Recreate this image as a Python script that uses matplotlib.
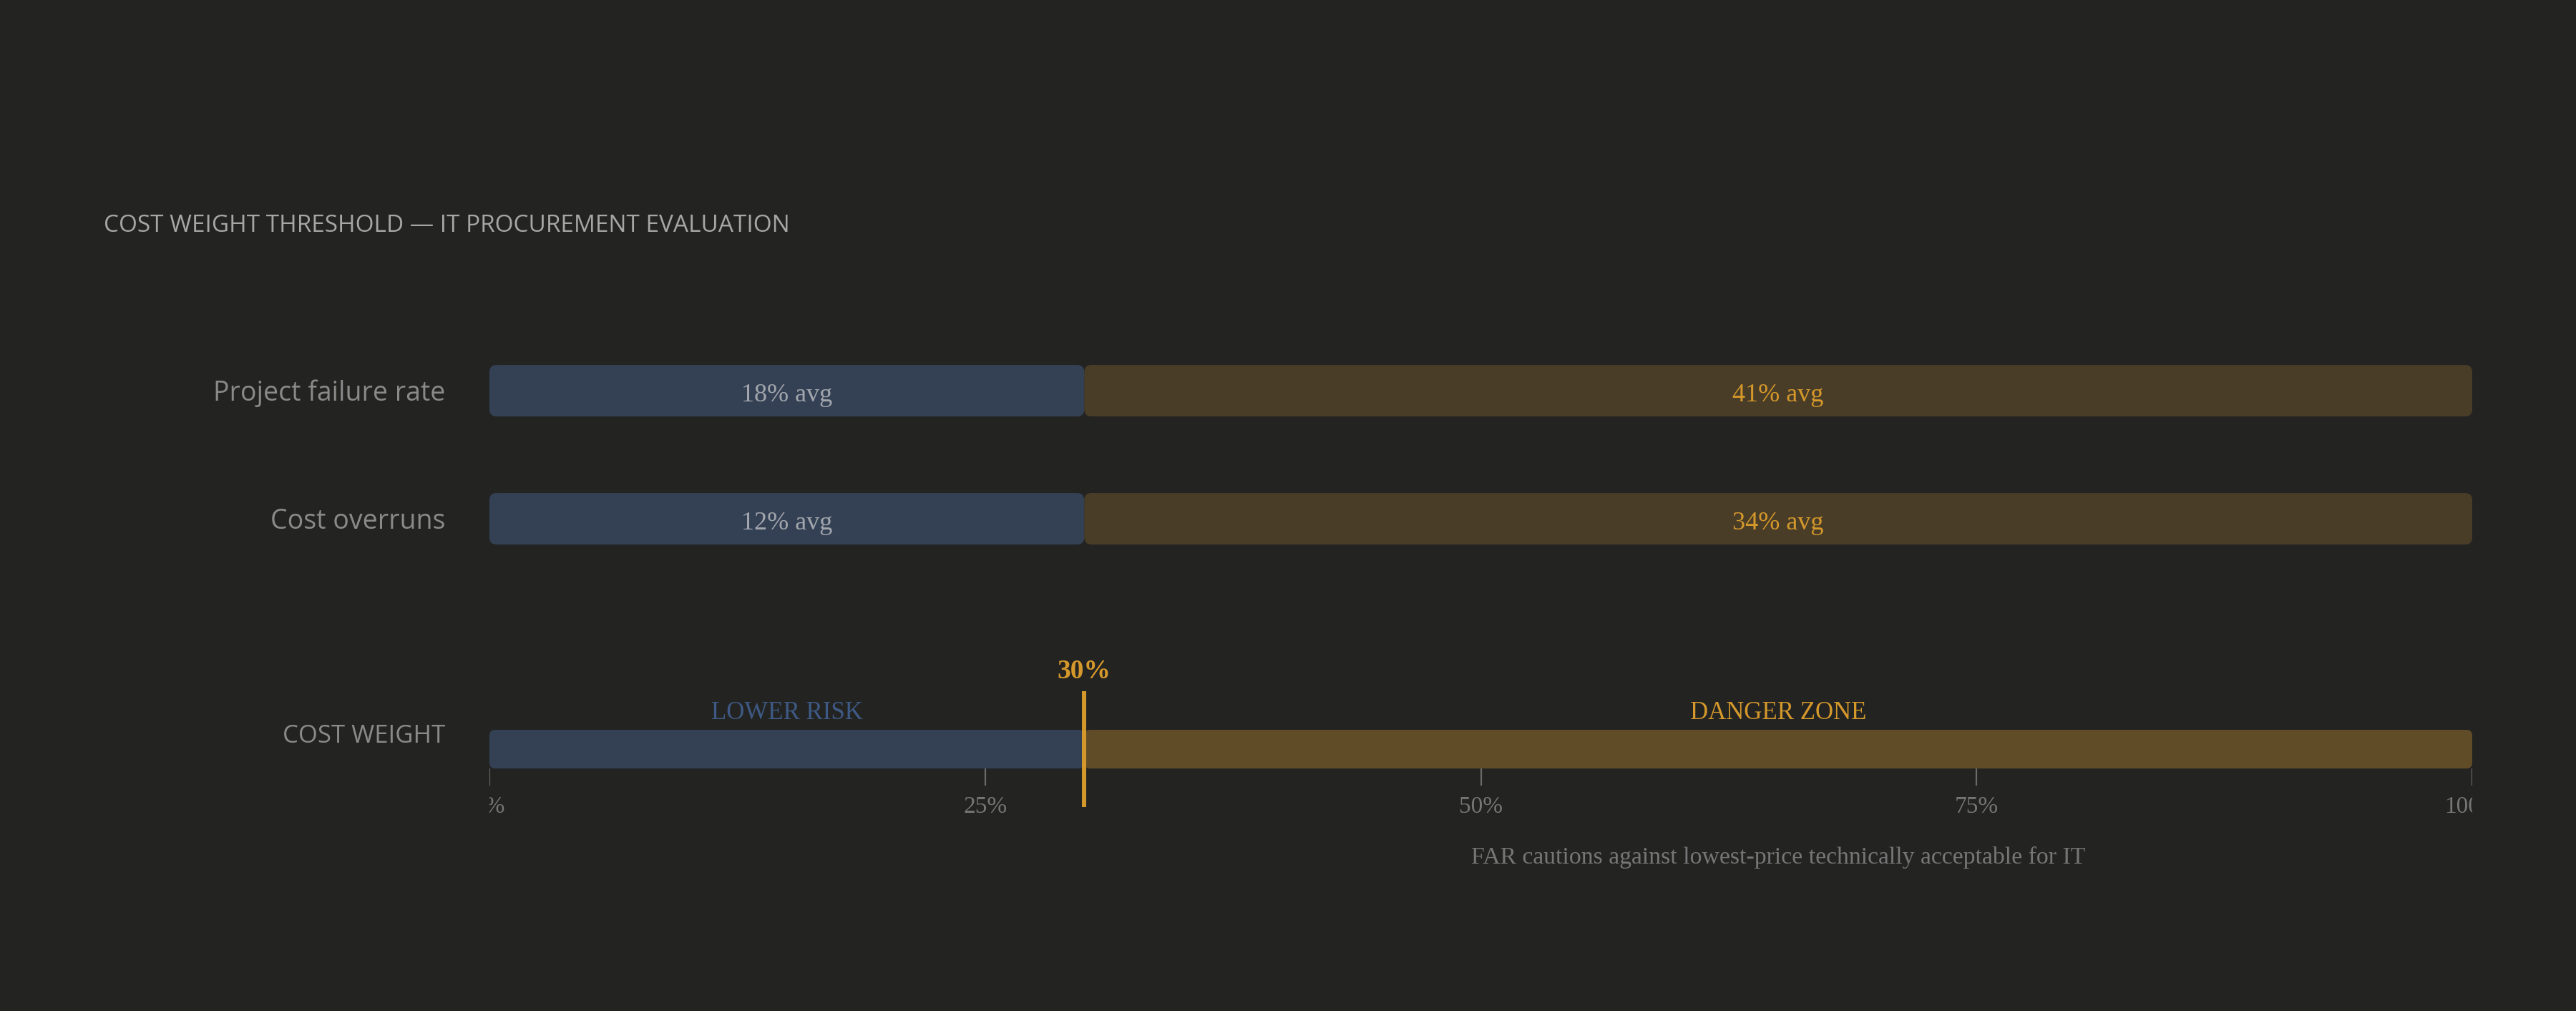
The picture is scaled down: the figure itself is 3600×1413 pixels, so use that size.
import matplotlib
matplotlib.use("Agg")
import matplotlib.pyplot as plt
from matplotlib.patches import FancyBboxPatch

# ---------------- data ----------------
title = "COST WEIGHT THRESHOLD \u2014 IT PROCUREMENT EVALUATION"
rows = ["Project failure rate", "Cost overruns"]
low_avg = [18, 12]      # % avg, below threshold
high_avg = [41, 34]     # % avg, above threshold
threshold = 30
axis_max = 100
ticks = [0, 25, 50, 75, 100]
tick_labels = ["0%", "25%", "50%", "75%", "100%"]
zone_labels = ["LOWER RISK", "DANGER ZONE"]
scale_label = "COST WEIGHT"
footnote = "FAR cautions against lowest-price technically acceptable for IT"

# ---------------- style ----------------
BG = "#232322"
BLUE = "#344155"
ORANGE_DIM = "#4a3d28"
ORANGE_MID = "#614c28"
ORANGE = "#d4982b"
STEEL = "#3e5a84"
GRAY_LBL = "#8a8a8a"
GRAY_TICK = "#767676"
TITLE_C = "#a6a6a2"
VAL_LIGHT = "#a2a6ac"
SANS = ["Open Sans", "DejaVu Sans"]
SERIF = ["Liberation Serif", "DejaVu Serif"]

W, H = 3600, 1413
fig = plt.figure(figsize=(W / 100, H / 100), dpi=100, facecolor=BG)


def ax_px(left, top, right, bottom):
    ax = fig.add_axes([left / W, 1 - bottom / H, (right - left) / W, (bottom - top) / H])
    ax.set_facecolor("none")
    ax.axis("off")
    return ax


def rbar(ax, x0, w, yc, h, color, r_px, z=2):
    pos = ax.get_position()
    xl, yl = ax.get_xlim(), ax.get_ylim()
    xpp = pos.width * W / abs(xl[1] - xl[0])
    ypp = pos.height * H / abs(yl[1] - yl[0])
    rx = r_px / xpp
    p = FancyBboxPatch((x0, yc - h / 2), w, h,
                       boxstyle=f"round,pad=0,rounding_size={rx}",
                       mutation_aspect=xpp / ypp, fc=color, ec="none", zorder=z)
    ax.add_patch(p)


fig.text(145 / W, 1 - 315 / H, title, color=TITLE_C, fontsize=24,
         family=SANS, ha="left", va="center")

# ---------------- comparison rows ----------------
ax1 = ax_px(684, 480, 3455, 790)
ax1.set_xlim(0, axis_max)
ax1.set_ylim(1.363, -0.369)
bh = 0.402
for i, (name, lo, hi) in enumerate(zip(rows, low_avg, high_avg)):
    rbar(ax1, 0, threshold, i, bh, BLUE, 10)
    rbar(ax1, threshold, axis_max - threshold, i, bh, ORANGE_DIM, 10)
    ax1.text(threshold / 2, i + 0.036, f"{lo}% avg", ha="center", va="center",
             color=VAL_LIGHT, fontsize=26, family=SERIF, zorder=5)
    ax1.text((threshold + axis_max) / 2, i + 0.036, f"{hi}% avg", ha="center", va="center",
             color=ORANGE, fontsize=26, family=SERIF, zorder=5)
    ax1.text(-0.0224, i + 0.02, name, transform=ax1.get_yaxis_transform(),
             ha="right", va="center", color=GRAY_LBL, fontsize=27, family=SANS)

# ---------------- cost weight scale ----------------
ax2 = ax_px(684, 900, 3455, 1240)
ax2.set_xlim(0, axis_max)
ax2.set_ylim(3.57, -2.72)
rbar(ax2, 0, threshold, 0, 1, BLUE, 8)
rbar(ax2, threshold, axis_max - threshold, 0, 1, ORANGE_MID, 8)
ax2.vlines(ticks, 0.5, 0.94, color="#6a6a6a", lw=1.6, zorder=1)
for t, lab in zip(ticks, tick_labels):
    ax2.text(t, 1.5, lab, ha="center", va="center", color=GRAY_TICK,
             fontsize=24, family=SERIF, clip_on=True)
ax2.vlines(threshold, -1.5, 1.5, color=ORANGE, lw=4.3, zorder=6)
ax2.text(threshold, -2.0, f"{threshold}%", ha="center", va="center", color=ORANGE,
         fontsize=27, fontweight="bold", family=SERIF)
ax2.text(threshold / 2, -0.94, zone_labels[0], ha="center", va="center", color=STEEL,
         fontsize=25, family=SERIF)
ax2.text((threshold + axis_max) / 2, -0.94, zone_labels[1], ha="center", va="center",
         color=ORANGE, fontsize=25, family=SERIF)
ax2.text((threshold + axis_max) / 2, 2.8, footnote, ha="center", va="center",
         color=GRAY_TICK, fontsize=24.3, family=SERIF)
ax2.text(-0.0224, -0.34, scale_label, transform=ax2.get_yaxis_transform(),
         ha="right", va="center", color=GRAY_LBL, fontsize=25, family=SANS)

fig.savefig("out.png", dpi=100, facecolor=BG)
